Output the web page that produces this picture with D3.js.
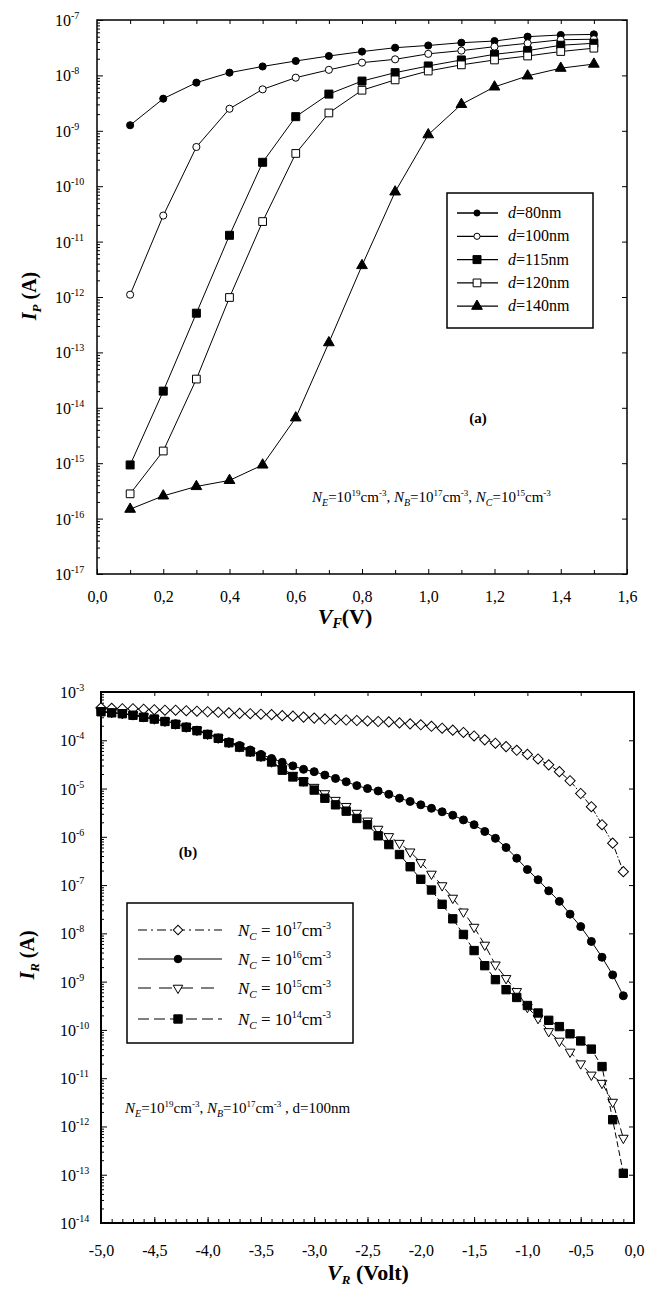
<!DOCTYPE html>
<html>
<head>
<meta charset="UTF-8">
<title>I-V curves</title>
<script src="https://cdn.jsdelivr.net/npm/d3@7"></script>
<style>
body { margin: 0; background: #fff; }
svg { display: block; font-family: "Liberation Serif", "Times New Roman", serif; }
.tick text { fill: #000; font-family: "Liberation Serif", "Times New Roman", serif; }
</style>
</head>
<body>
<svg id="fig" width="654" height="1290"></svg>
<script>
// ---- panel (a): forward current vs V_F ----
var vF = [0.1, 0.2, 0.3, 0.4, 0.5, 0.6, 0.7, 0.8, 0.9, 1.0, 1.1, 1.2, 1.3, 1.4, 1.5];
var ipD80  = [1.26e-9, 3.8e-9, 7.4e-9, 1.12e-8, 1.45e-8, 1.82e-8, 2.24e-8, 2.69e-8, 3.16e-8, 3.47e-8, 3.89e-8, 4.17e-8, 5.0e-8, 5.37e-8, 5.5e-8];
var ipD100 = [1.1e-12, 2.95e-11, 5.1e-10, 2.5e-9, 5.6e-9, 9.1e-9, 1.26e-8, 1.7e-8, 1.95e-8, 2.45e-8, 2.8e-8, 3.3e-8, 3.8e-8, 4.4e-8, 4.5e-8];
var ipD115 = [9.3e-16, 2.0e-14, 5.1e-13, 1.3e-11, 2.7e-10, 1.8e-9, 4.6e-9, 7.9e-9, 1.12e-8, 1.48e-8, 1.9e-8, 2.4e-8, 2.8e-8, 3.5e-8, 3.8e-8];
var ipD120 = [2.8e-16, 1.66e-15, 3.3e-14, 9.8e-13, 2.3e-11, 3.9e-10, 2.1e-9, 5.4e-9, 8.3e-9, 1.2e-8, 1.55e-8, 1.9e-8, 2.24e-8, 2.7e-8, 3.1e-8];
var ipD140 = [1.48e-16, 2.57e-16, 3.8e-16, 4.9e-16, 9.3e-16, 6.6e-15, 1.5e-13, 3.7e-12, 7.9e-11, 8.5e-10, 3.0e-9, 6.2e-9, 9.8e-9, 1.35e-8, 1.6e-8];
var vFTicks = [0, 0.2, 0.4, 0.6, 0.8, 1.0, 1.2, 1.4, 1.6];
var ipExps = [-7, -8, -9, -10, -11, -12, -13, -14, -15, -16, -17];

// ---- panel (b): reverse current vs V_R ----
var vR = [-5.0, -4.9, -4.8, -4.7, -4.6, -4.5, -4.4, -4.3, -4.2, -4.1,
          -4.0, -3.9, -3.8, -3.7, -3.6, -3.5, -3.4, -3.3, -3.2, -3.1,
          -3.0, -2.9, -2.8, -2.7, -2.6, -2.5, -2.4, -2.3, -2.2, -2.1,
          -2.0, -1.9, -1.8, -1.7, -1.6, -1.5, -1.4, -1.3, -1.2, -1.1,
          -1.0, -0.9, -0.8, -0.7, -0.6, -0.5, -0.4, -0.3, -0.2, -0.1];
var ir17 = [4.7e-4, 4.6e-4, 4.5e-4, 4.5e-4, 4.4e-4, 4.3e-4, 4.2e-4, 4.2e-4, 4.1e-4, 4.0e-4,
            3.9e-4, 3.8e-4, 3.7e-4, 3.6e-4, 3.55e-4, 3.47e-4, 3.39e-4, 3.24e-4, 3.16e-4, 3.02e-4,
            2.88e-4, 2.75e-4, 2.69e-4, 2.63e-4, 2.57e-4, 2.51e-4, 2.45e-4, 2.40e-4, 2.29e-4, 2.19e-4,
            2.09e-4, 1.95e-4, 1.78e-4, 1.62e-4, 1.45e-4, 1.23e-4, 1.02e-4, 8.7e-5, 7.4e-5, 6.2e-5,
            5.1e-5, 4.1e-5, 3.1e-5, 2.24e-5, 1.45e-5, 7.9e-6, 4.2e-6, 1.78e-6, 7.4e-7, 1.9e-7];
var ir16 = [3.9e-4, 3.7e-4, 3.55e-4, 3.3e-4, 3.0e-4, 2.75e-4, 2.5e-4, 2.2e-4, 1.9e-4, 1.62e-4,
            1.35e-4, 1.12e-4, 9.3e-5, 7.8e-5, 6.3e-5, 5.1e-5, 4.2e-5, 3.5e-5, 2.95e-5, 2.5e-5,
            2.24e-5, 1.9e-5, 1.62e-5, 1.38e-5, 1.15e-5, 1.0e-5, 8.9e-6, 7.6e-6, 6.3e-6, 5.4e-6,
            4.6e-6, 3.9e-6, 3.3e-6, 2.8e-6, 2.24e-6, 1.78e-6, 1.29e-6, 9.3e-7, 6.0e-7, 3.6e-7,
            2.1e-7, 1.29e-7, 7.6e-8, 4.6e-8, 2.5e-8, 1.38e-8, 6.8e-9, 3.2e-9, 1.38e-9, 5.1e-10];
var ir15 = [4.0e-4, 3.8e-4, 3.6e-4, 3.4e-4, 3.1e-4, 2.8e-4, 2.5e-4, 2.2e-4, 1.9e-4, 1.62e-4,
            1.35e-4, 1.12e-4, 9.1e-5, 7.4e-5, 5.9e-5, 4.7e-5, 3.6e-5, 2.6e-5, 1.9e-5, 1.45e-5,
            1.07e-5, 7.9e-6, 5.75e-6, 4.3e-6, 3.1e-6, 2.14e-6, 1.45e-6, 1.02e-6, 7.4e-7, 4.9e-7,
            2.95e-7, 1.7e-7, 9.8e-8, 5.4e-8, 2.8e-8, 1.35e-8, 5.75e-9, 2.24e-9, 1.17e-9, 6.3e-10,
            2.95e-10, 1.74e-10, 9.3e-11, 5.9e-11, 3.5e-11, 2.0e-11, 1.17e-11, 7.9e-12, 3.2e-12, 5.75e-13];
var ir14 = [3.9e-4, 3.7e-4, 3.55e-4, 3.3e-4, 3.0e-4, 2.75e-4, 2.45e-4, 2.14e-4, 1.86e-4, 1.58e-4,
            1.32e-4, 1.10e-4, 8.9e-5, 7.2e-5, 5.75e-5, 4.6e-5, 3.55e-5, 2.4e-5, 1.74e-5, 1.38e-5,
            9.3e-6, 6.3e-6, 4.6e-6, 3.4e-6, 2.4e-6, 1.78e-6, 1.05e-6, 6.9e-7, 4.3e-7, 2.4e-7,
            1.32e-7, 7.9e-8, 4.0e-8, 2.0e-8, 9.5e-9, 4.4e-9, 2.14e-9, 1.10e-9, 6.8e-10, 4.7e-10,
            3.2e-10, 2.24e-10, 1.58e-10, 1.17e-10, 8.3e-11, 5.9e-11, 4.0e-11, 1.74e-11, 1.38e-12, 1.07e-13];
var vRTicks = [-5.0, -4.5, -4.0, -3.5, -3.0, -2.5, -2.0, -1.5, -1.0, -0.5, 0.0];
var irExps = [-3, -4, -5, -6, -7, -8, -9, -10, -11, -12, -13, -14];

var svg = d3.select('#fig');
svg.append('rect').attr('width', 654).attr('height', 1290).attr('fill', '#fff');

function comma(d) {
    return d.toFixed(1).replace('.', ',');
}

function marker(g, type, size, filled, px, py, rot) {
    g.append('path')
        .attr('d', d3.symbol().type(type).size(size)())
        .attr('transform', 'translate(' + px + ',' + py + ') rotate(' + (rot || 0) + ')')
        .attr('fill', filled ? '#000' : '#fff')
        .attr('stroke', '#000')
        .attr('stroke-width', 1);
}

function drawPanel(p) {
    var g = svg.append('g').attr('transform', 'translate(' + p.left + ',' + p.top + ')');
    var x = d3.scaleLinear().domain(p.xDomain).range([0, p.w]);
    var y = d3.scaleLog().domain(p.yDomain).range([p.h, 0]);

    // bottom axis, labelled
    var bx = g.append('g').attr('transform', 'translate(0,' + p.h + ')')
        .call(d3.axisBottom(x).tickValues(p.xTicks).tickSize(-p.xMajor).tickSizeOuter(0)
            .tickPadding(p.xPad).tickFormat(comma));
    bx.selectAll('text').style('font-size', '16px');
    // bottom minor ticks
    g.append('g').attr('transform', 'translate(0,' + p.h + ')')
        .call(d3.axisBottom(x).tickValues(p.xMinor).tickSize(-4).tickSizeOuter(0).tickFormat(''));
    // top ticks
    g.append('g')
        .call(d3.axisTop(x).tickValues(p.xTop).tickSize(-4).tickSizeOuter(0).tickFormat(''));

    var all = y.ticks(60);
    var majors = all.filter(function(t) { return Math.abs(Math.log10(t) - Math.round(Math.log10(t))) < 1e-6; });
    var minors = all.filter(function(t) { return majors.indexOf(t) < 0; });
    g.append('g').call(d3.axisLeft(y).tickValues(majors).tickSize(-6).tickSizeOuter(0).tickFormat(''));
    g.append('g').call(d3.axisLeft(y).tickValues(minors).tickSize(-3).tickSizeOuter(0).tickFormat(''));
    g.append('g').attr('transform', 'translate(' + p.w + ',0)')
        .call(d3.axisRight(y).tickValues(majors).tickSize(-5).tickSizeOuter(0).tickFormat(''));
    g.selectAll('.domain').remove();
    g.selectAll('.tick line').attr('stroke', '#000').attr('stroke-width', 1);

    // y tick labels 10^n
    p.yExps.forEach(function(e) {
        var t = g.append('text')
            .attr('x', p.yLabelX - p.left)
            .attr('y', y(Math.pow(10, e)) + 6)
            .style('font-size', '16px')
            .text('10');
        t.append('tspan').attr('dy', -7).style('font-size', '10px').text(String(e));
    });

    g.append('rect').attr('width', p.w).attr('height', p.h)
        .attr('fill', 'none').attr('stroke', '#000').attr('stroke-width', p.frame);

    var line = d3.line().x(function(d) { return x(d[0]); }).y(function(d) { return y(d[1]); });
    p.series.forEach(function(s) {
        var pts = p.xs.map(function(v, i) { return [v, s.values[i]]; });
        g.append('path').datum(pts).attr('d', line)
            .attr('fill', 'none').attr('stroke', '#000').attr('stroke-width', 1)
            .attr('stroke-dasharray', s.dash || null);
        pts.forEach(function(d) {
            marker(g, s.type, s.size, s.filled, x(d[0]), y(d[1]), s.rot);
        });
    });
    return g;
}

var diamond = d3.symbolSquare;

drawPanel({
    left: 97, top: 20, w: 530, h: 554, frame: 1.5,
    xDomain: [0, 1.6], yDomain: [1e-17, 1e-7],
    xTicks: vFTicks, xMinor: d3.range(0.1, 1.6, 0.2), xTop: d3.range(0.1, 1.6, 0.1),
    xMajor: 5, xPad: 17, yExps: ipExps, yLabelX: 55,
    xs: vF,
    series: [
        { values: ipD80,  type: d3.symbolCircle,   size: 40, filled: true },
        { values: ipD100, type: d3.symbolCircle,   size: 40, filled: false },
        { values: ipD115, type: d3.symbolSquare,   size: 64, filled: true },
        { values: ipD120, type: d3.symbolSquare,   size: 60, filled: false },
        { values: ipD140, type: d3.symbolTriangle, size: 50, filled: true }
    ]
});

drawPanel({
    left: 101, top: 692, w: 533, h: 531, frame: 2,
    xDomain: [-5, 0], yDomain: [1e-14, 1e-3],
    xTicks: vRTicks, xMinor: d3.range(-4.9, 0, 0.1), xTop: vRTicks.slice(1, -1),
    xMajor: 6, xPad: 22, yExps: irExps, yLabelX: 60,
    xs: vR,
    series: [
        { values: ir17, type: diamond,            size: 52, filled: false, rot: 45, dash: '6,2,1.5,2' },
        { values: ir15, type: d3.symbolTriangle,  size: 40, filled: false, rot: 180, dash: '8,4' },
        { values: ir14, type: d3.symbolSquare,    size: 70, filled: true, dash: '6,3' },
        { values: ir16, type: d3.symbolCircle,    size: 50, filled: true }
    ]
});

// ---- axis titles ----
function yTitle(cx, cy, sub) {
    var t = svg.append('text')
        .attr('transform', 'translate(' + cx + ',' + cy + ') rotate(-90)')
        .attr('text-anchor', 'middle')
        .style('font-size', '20px').style('font-weight', 'bold');
    t.append('tspan').style('font-style', 'italic').text('I');
    t.append('tspan').attr('dy', 5).style('font-style', 'italic').style('font-size', '13px').text(sub);
    t.append('tspan').attr('dy', -5).text(' (A)');
}
yTitle(36, 296, 'P');
yTitle(34, 955, 'R');

var xa = svg.append('text').attr('x', 345).attr('y', 624).attr('text-anchor', 'middle')
    .style('font-size', '22px').style('font-weight', 'bold');
xa.append('tspan').style('font-style', 'italic').text('V');
xa.append('tspan').attr('dy', 4).style('font-style', 'italic').style('font-size', '14px').text('F');
xa.append('tspan').attr('dy', -4).text('(V)');

var xb = svg.append('text').attr('x', 368).attr('y', 1280).attr('text-anchor', 'middle')
    .style('font-size', '22px').style('font-weight', 'bold');
xb.append('tspan').style('font-style', 'italic').text('V');
xb.append('tspan').attr('dy', 4).style('font-style', 'italic').style('font-size', '13px').text('R');
xb.append('tspan').attr('dy', -4).text(' (Volt)');

// ---- legends ----
var legA = [
    { label: '80nm',  type: d3.symbolCircle,   size: 30, filled: true },
    { label: '100nm', type: d3.symbolCircle,   size: 30, filled: false },
    { label: '115nm', type: d3.symbolSquare,   size: 64, filled: true },
    { label: '120nm', type: d3.symbolSquare,   size: 60, filled: false },
    { label: '140nm', type: d3.symbolTriangle, size: 50, filled: true }
];
svg.append('rect').attr('x', 447).attr('y', 193).attr('width', 146).attr('height', 135)
    .attr('fill', '#fff').attr('stroke', '#000').attr('stroke-width', 1.5);
legA.forEach(function(s, i) {
    var yy = 213 + i * 23.3;
    svg.append('line').attr('x1', 457).attr('x2', 498).attr('y1', yy).attr('y2', yy)
        .attr('stroke', '#000').attr('stroke-width', 1.3);
    marker(svg, s.type, s.size, s.filled, 477, yy, 0);
    var t = svg.append('text').attr('x', 508).attr('y', yy + 5).style('font-size', '16px');
    t.append('tspan').style('font-style', 'italic').text('d');
    t.append('tspan').text('=' + s.label);
});

var legB = [
    { exp: '17', type: diamond,           size: 45, filled: false, rot: 45, dash: '9,4,2,4' },
    { exp: '16', type: d3.symbolCircle,   size: 45, filled: true,  rot: 0,  dash: null },
    { exp: '15', type: d3.symbolTriangle, size: 40, filled: false, rot: 180, dash: '13,8' },
    { exp: '14', type: d3.symbolSquare,   size: 70, filled: true,  rot: 0,  dash: '11,5' }
];
svg.append('rect').attr('x', 127).attr('y', 903).attr('width', 226).attr('height', 140)
    .attr('fill', '#fff').attr('stroke', '#000').attr('stroke-width', 1.5);
var legBy = [930, 959, 988, 1019];
legB.forEach(function(s, i) {
    var yy = legBy[i];
    svg.append('line').attr('x1', 138).attr('x2', 222).attr('y1', yy).attr('y2', yy)
        .attr('stroke', '#000').attr('stroke-width', 1.2).attr('stroke-dasharray', s.dash);
    marker(svg, s.type, s.size, s.filled, 178, yy, s.rot);
    var t = svg.append('text').attr('x', 238).attr('y', yy + 6).style('font-size', '17px');
    t.append('tspan').style('font-style', 'italic').text('N');
    t.append('tspan').attr('dy', 4).style('font-style', 'italic').style('font-size', '11px').text('C');
    t.append('tspan').attr('dy', -4).text(' = 10');
    t.append('tspan').attr('dy', -7).style('font-size', '10px').text(s.exp);
    t.append('tspan').attr('dy', 7).text('cm');
    t.append('tspan').attr('dy', -7).style('font-size', '10px').text('-3');
});

// ---- annotations ----
function doping(x0, y0, parts, size) {
    var t = svg.append('text').attr('x', x0).attr('y', y0).style('font-size', size + 'px');
    parts.forEach(function(p) {
        if (p[0] === 'N') {
            t.append('tspan').style('font-style', 'italic').text('N');
            t.append('tspan').attr('dy', 4).style('font-style', 'italic').style('font-size', (size - 5) + 'px').text(p[1]);
            t.append('tspan').attr('dy', -4).text('=10');
            t.append('tspan').attr('dy', -6).style('font-size', (size - 6) + 'px').text(p[2]);
            t.append('tspan').attr('dy', 6).text('cm');
            t.append('tspan').attr('dy', -6).style('font-size', (size - 6) + 'px').text('-3');
            t.append('tspan').attr('dy', 6).text(p[3]);
        } else {
            t.append('tspan').text(p[1]);
        }
    });
}
doping(312, 502, [['N', 'E', '19', ', '], ['N', 'B', '17', ', '], ['N', 'C', '15', '']], 15);
doping(125, 1113, [['N', 'E', '19', ', '], ['N', 'B', '17', ' , '], ['T', 'd=100nm']], 15);

svg.append('text').attr('x', 478).attr('y', 423).attr('text-anchor', 'middle')
    .style('font-size', '15px').style('font-weight', 'bold').text('(a)');
svg.append('text').attr('x', 188).attr('y', 857).attr('text-anchor', 'middle')
    .style('font-size', '15px').style('font-weight', 'bold').text('(b)');
</script>
</body>
</html>
